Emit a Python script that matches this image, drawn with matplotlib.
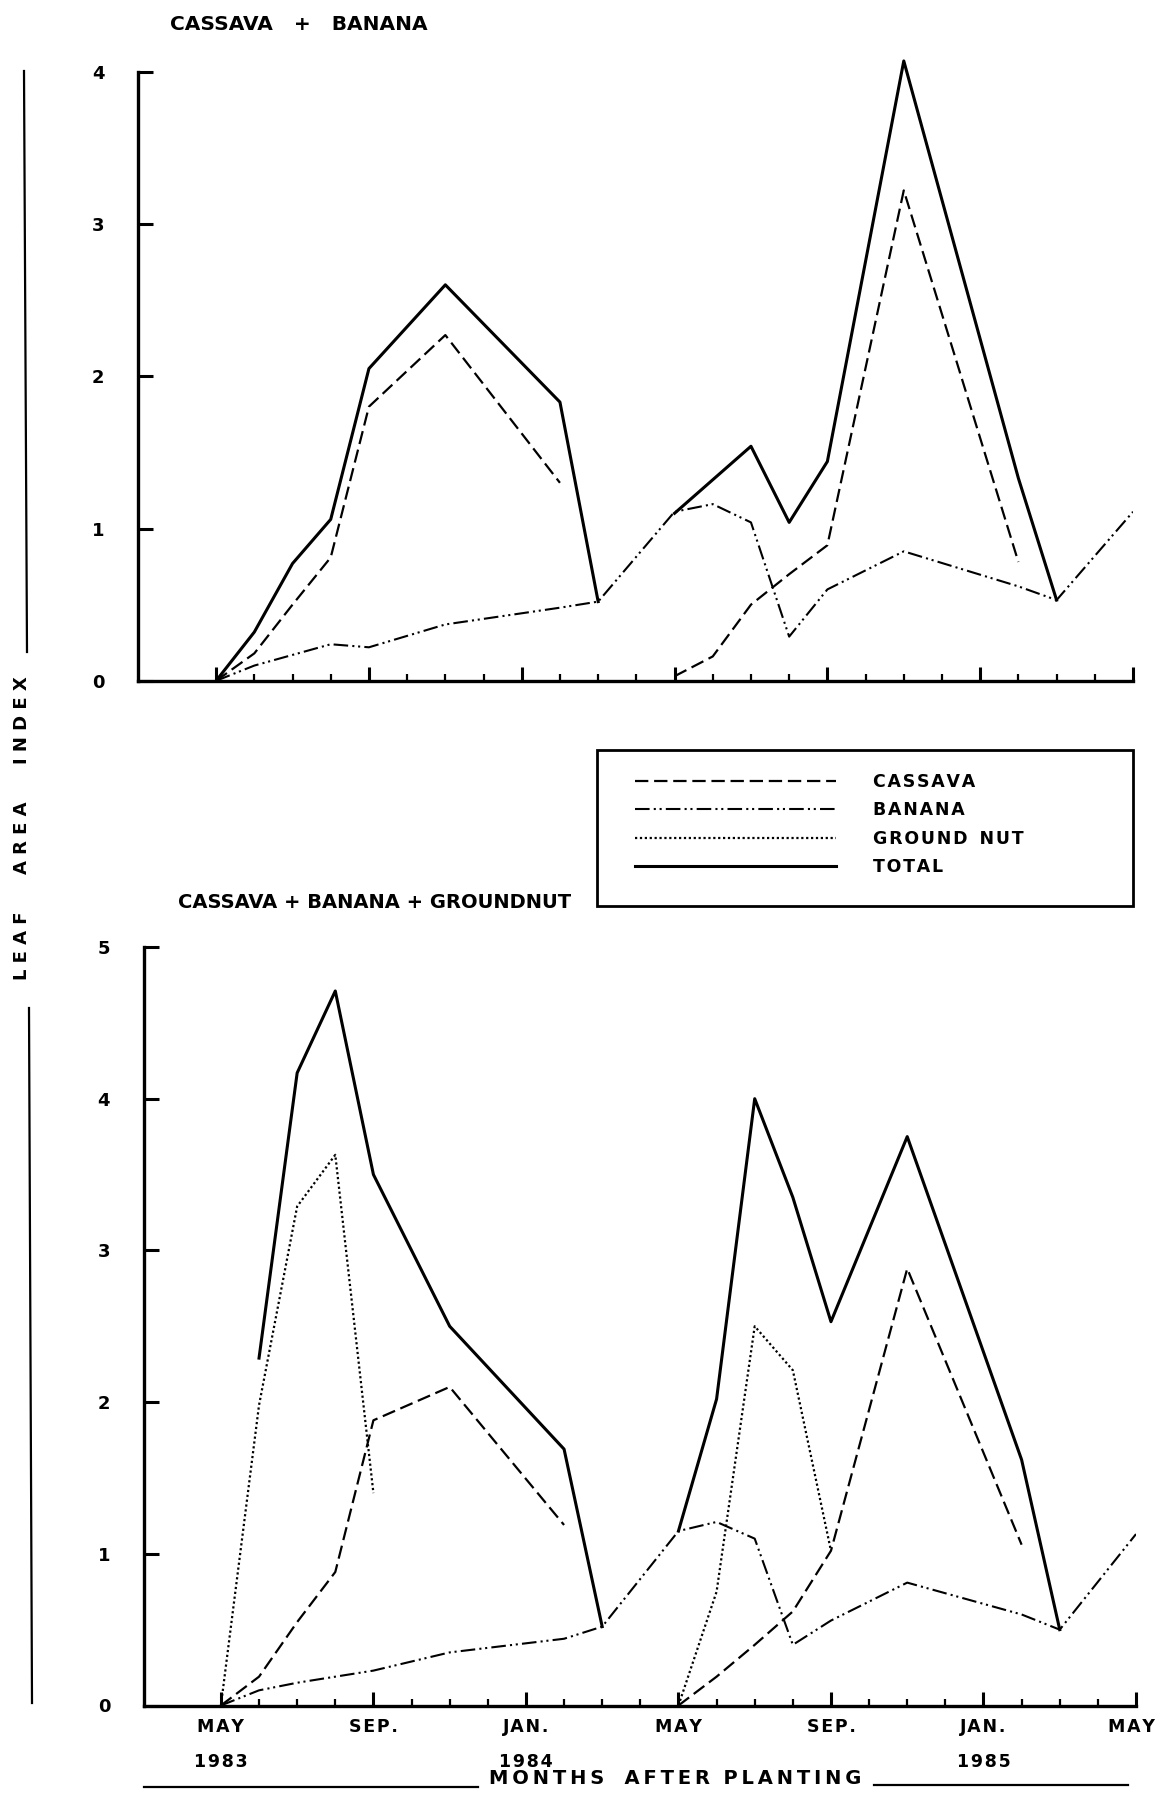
import numpy as np
import matplotlib
matplotlib.use("Agg")
import matplotlib.pyplot as plt
from matplotlib.lines import Line2D
from matplotlib.patches import Rectangle
from matplotlib.ticker import FixedLocator, MultipleLocator
from matplotlib.transforms import ScaledTranslation

plt.rcParams['font.family'] = ['DejaVu Sans']

# ---------------- data (months after May 1983) ----------------
# Top panel: CASSAVA + BANANA
top_cassava1_m = [0, 1, 2, 3, 4, 6, 9]
top_cassava1_v = [0, 0.18, 0.50, 0.81, 1.80, 2.27, 1.30]
top_cassava2_m = [12, 13, 14, 15, 16, 18, 21]
top_cassava2_v = [0.03, 0.16, 0.50, 0.70, 0.89, 3.22, 0.78]
top_banana_m = [0, 1, 2, 3, 4, 6, 9, 10, 12, 13, 14, 15, 16, 18, 21, 22, 24]
top_banana_v = [0, 0.10, 0.17, 0.24, 0.22, 0.37, 0.48, 0.52, 1.11, 1.16, 1.04, 0.29, 0.60, 0.85, 0.62, 0.53, 1.11]
top_total1_m = [0, 1, 2, 3, 4, 6, 9, 10]
top_total1_v = [0, 0.32, 0.77, 1.06, 2.05, 2.60, 1.83, 0.52]
top_total2_m = [12, 14, 15, 16, 18, 21, 22]
top_total2_v = [1.10, 1.54, 1.04, 1.44, 4.07, 1.33, 0.53]

# Bottom panel: CASSAVA + BANANA + GROUNDNUT
bot_cassava1_m = [0, 1, 2, 3, 4, 6, 9]
bot_cassava1_v = [0, 0.19, 0.55, 0.88, 1.88, 2.10, 1.19]
bot_cassava2_m = [12, 13, 14, 15, 16, 18, 21]
bot_cassava2_v = [0, 0.19, 0.40, 0.62, 1.02, 2.88, 1.06]
bot_banana_m = [0, 1, 2, 3, 4, 6, 9, 10, 12, 13, 14, 15, 16, 18, 21, 22, 24]
bot_banana_v = [0, 0.10, 0.15, 0.19, 0.23, 0.35, 0.44, 0.52, 1.15, 1.21, 1.10, 0.40, 0.56, 0.81, 0.60, 0.50, 1.13]
bot_gnut1_m = [0, 1, 2, 3, 4]
bot_gnut1_v = [0, 1.98, 3.29, 3.63, 1.40]
bot_gnut2_m = [12, 13, 14, 15, 16]
bot_gnut2_v = [0, 0.75, 2.50, 2.21, 1.02]
bot_total1_m = [1, 2, 3, 4, 6, 9, 10]
bot_total1_v = [2.29, 4.17, 4.71, 3.50, 2.50, 1.69, 0.52]
bot_total2_m = [12, 13, 14, 15, 16, 18, 21, 22]
bot_total2_v = [1.15, 2.02, 4.00, 3.35, 2.53, 3.75, 1.62, 0.50]

month_ticks = [0, 4, 8, 12, 16, 20, 24]
month_labels = ['MAY', 'SEP.', 'JAN.', 'MAY', 'SEP.', 'JAN.', 'MAY']
year_pos = [0, 8, 20]
year_labels = ['1983', '1984', '1985']

legend_labels = ['CASSAVA', 'BANANA', 'GROUND NUT', 'TOTAL']

# ---------------- styles ----------------
W, H = 1157, 1795
sty_cassava = dict(color='black', lw=1.6, linestyle=(0, (6, 2.6)))
sty_banana = dict(color='black', lw=1.5, linestyle=(0, (7, 2, 1, 1.8, 1, 2)))
sty_gnut = dict(color='black', lw=1.6, linestyle=(0, (1, 1.2)))
sty_total = dict(color='black', lw=2.2, linestyle='-')

HS = '\u200a'  # hair space
TS = '\u2009'  # thin space


def wide(s, sep=HS, gap=' '):
    words = s.split(' ')
    return gap.join(sep.join(w) for w in words)


def fx(px):
    return px / W


def fy(py):
    return 1 - py / H


fig = plt.figure(figsize=(W / 100, H / 100), dpi=100)


def make_axes(left, right, y0px, ytop_px):
    ax = fig.add_axes([fx(left), fy(y0px), (right - left) / W, (y0px - ytop_px) / H])
    for s in ['top', 'right']:
        ax.spines[s].set_visible(False)
    ax.spines['left'].set_linewidth(2.4)
    ax.spines['bottom'].set_linewidth(2.4)
    ax.xaxis.set_major_locator(FixedLocator(month_ticks))
    ax.xaxis.set_minor_locator(FixedLocator(list(range(0, 25))))
    ax.tick_params(axis='x', which='major', direction='in', length=10, width=2.2)
    ax.tick_params(axis='x', which='minor', direction='in', length=5, width=1.6)
    ax.tick_params(axis='y', which='major', direction='in', length=11, width=2.2,
                   pad=24, labelsize=13)
    ax.yaxis.set_major_locator(MultipleLocator(1))
    return ax


# ---------------- top panel ----------------
ax1 = make_axes(137.8, 1133, 680.8, 680.8 - 4.15 * 152.3)
ax1.set_xlim(-2.05, 24)
ax1.set_ylim(0, 4.15)
ax1.spines['left'].set_bounds(0, 4)
ax1.set_xticklabels([])
ax1.plot(top_cassava1_m, top_cassava1_v, **sty_cassava)
ax1.plot(top_cassava2_m, top_cassava2_v, **sty_cassava)
ax1.plot(top_banana_m, top_banana_v, **sty_banana)
ax1.plot(top_total1_m, top_total1_v, **sty_total)
ax1.plot(top_total2_m, top_total2_v, **sty_total)
for t in ax1.get_yticklabels():
    t.set_fontweight('bold')

# ---------------- bottom panel ----------------
ax2 = make_axes(143.5, 1136, 1705.5, 947)
ax2.set_xlim(-2.03, 24)
ax2.set_ylim(0, 5)
ax2.set_xticklabels([wide(m) for m in month_labels], fontsize=12.5, fontweight='bold')
ax2.tick_params(axis='x', which='major', pad=9)
last = ax2.get_xticklabels()[-1]
last.set_transform(last.get_transform() + ScaledTranslation(-5 / 100, 0, fig.dpi_scale_trans))
l_c, = ax2.plot(bot_cassava1_m, bot_cassava1_v, **sty_cassava)
ax2.plot(bot_cassava2_m, bot_cassava2_v, **sty_cassava)
l_b, = ax2.plot(bot_banana_m, bot_banana_v, **sty_banana)
l_g, = ax2.plot(bot_gnut1_m, bot_gnut1_v, **sty_gnut)
ax2.plot(bot_gnut2_m, bot_gnut2_v, **sty_gnut)
l_t, = ax2.plot(bot_total1_m, bot_total1_v, **sty_total)
ax2.plot(bot_total2_m, bot_total2_v, **sty_total)
for t in ax2.get_yticklabels():
    t.set_fontweight('bold')

trans = ax2.get_xaxis_transform()
for m, lab in zip(year_pos, year_labels):
    ax2.text(m, -0.075, wide(lab), transform=trans, ha='center', va='center',
             fontsize=12.5, fontweight='bold')

# ---------------- titles / labels ----------------
fig.text(fx(170), fy(25), 'CASSAVA   +   BANANA',
         ha='left', va='center', fontsize=14.5, fontweight='bold')
fig.text(fx(178), fy(903), 'CASSAVA + BANANA + GROUNDNUT',
         ha='left', va='center', fontsize=14, fontweight='bold')

fig.text(fx(22), fy(828), 'L E A F      A R E A      I N D E X', rotation=90,
         ha='center', va='center', fontsize=13, fontweight='bold')
fig.add_artist(Line2D([fx(24), fx(27)], [fy(71), fy(652)], color='black', lw=1.6))
fig.add_artist(Line2D([fx(29), fx(32)], [fy(1008), fy(1703)], color='black', lw=1.6))

fig.text(fx(675), fy(1779), wide('MONTHS', TS) + '   ' + wide('AFTER', TS) + '  ' + wide('PLANTING', TS),
         ha='center', va='center', fontsize=14, fontweight='bold')
fig.add_artist(Line2D([fx(144), fx(478)], [fy(1787), fy(1787)], color='black', lw=1.6))
fig.add_artist(Line2D([fx(874), fx(1128)], [fy(1785), fy(1785)], color='black', lw=1.6))

# ---------------- legend ----------------
fig.add_artist(Rectangle((fx(597), fy(906)), (1133 - 597) / W, (906 - 750) / H,
                         transform=fig.transFigure, fill=False, lw=2.0,
                         edgecolor='black'))
leg = fig.legend([l_c, l_b, l_g, l_t], [wide(s, gap='  ') for s in legend_labels],
                 loc='upper left', bbox_to_anchor=(fx(635), fy(773)),
                 borderaxespad=0, borderpad=0, handlelength=11.6, handletextpad=2.1,
                 labelspacing=0.6, fontsize=12.5, frameon=False)
for t in leg.get_texts():
    t.set_fontweight('bold')

fig.savefig('out.png', dpi=100, facecolor='white')
